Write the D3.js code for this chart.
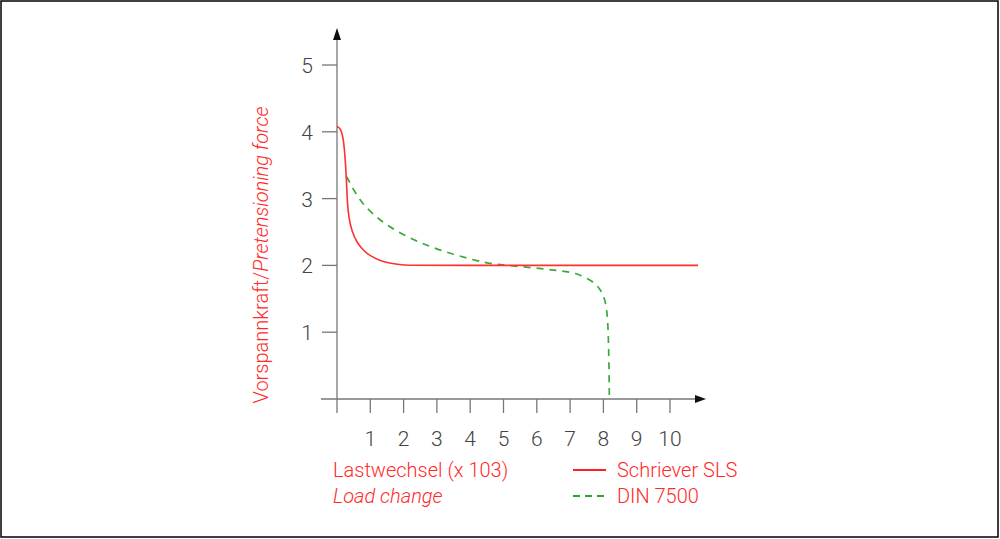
<!DOCTYPE html>
<html>
<head>
<meta charset="utf-8">
<script src="https://cdn.jsdelivr.net/npm/d3@7"></script>
<style>
  body { margin: 0; background: #fff; }
  svg { display: block; font-family: Roboto, 'Liberation Sans', Arial, sans-serif; font-weight: 300; }
</style>
</head>
<body>
<svg id="canvas" width="1000" height="539"></svg>
<script>
let xTicks = [1, 2, 3, 4, 5, 6, 7, 8, 9, 10]
let yTicks = [1, 2, 3, 4, 5]

// Schriever SLS (red)
let slsX = [0, 0.1, 0.2, 0.26, 0.29, 0.31, 0.35, 0.45, 0.6, 0.8, 1.0, 1.3, 1.6, 2.0, 2.5, 10.84]
let slsY = [4.08, 4.06, 3.9, 3.5, 3.2, 2.95, 2.72, 2.5, 2.34, 2.22, 2.14, 2.07, 2.03, 2.0, 2.0, 2.0]

// DIN 7500 (green dashed)
let dinX = [0.29, 0.7, 1.5, 2.5, 3.5, 4.5, 5.1, 6.0, 6.5, 7.0, 7.3, 7.69, 7.9, 8.05, 8.15, 8.18]
let dinY = [3.33, 2.93, 2.58, 2.33, 2.16, 2.03, 2.0, 1.96, 1.93, 1.9, 1.86, 1.76, 1.65, 1.5, 1.2, 0]

let canvas = d3.select('#canvas')

canvas.append('rect')
  .attr('x', 1).attr('y', 1)
  .attr('width', 997).attr('height', 536)
  .attr('fill', 'none').attr('stroke', '#000').attr('stroke-width', 1.5)

let xScale = d3.scaleLinear().domain([0, 10]).range([337, 670])
let yScale = d3.scaleLinear().domain([0, 5]).range([399, 65])

let axisColor = '#777'

// axis lines
canvas.append('line')
  .attr('x1', 321).attr('x2', 697)
  .attr('y1', yScale(0)).attr('y2', yScale(0))
  .attr('stroke', axisColor).attr('stroke-width', 1.3)
canvas.append('line')
  .attr('x1', xScale(0)).attr('x2', xScale(0))
  .attr('y1', 413).attr('y2', 36)
  .attr('stroke', axisColor).attr('stroke-width', 1.3)

// arrow heads
canvas.append('path')
  .attr('d', 'M' + 695 + ',' + (yScale(0) - 4) + 'L' + 706 + ',' + yScale(0) + 'L' + 695 + ',' + (yScale(0) + 4) + 'Z')
  .attr('fill', '#111')
canvas.append('path')
  .attr('d', 'M' + (xScale(0) - 4) + ',' + 40 + 'L' + xScale(0) + ',' + 28 + 'L' + (xScale(0) + 4) + ',' + 40 + 'Z')
  .attr('fill', '#111')

// x ticks
canvas.selectAll('.xtick')
  .data(xTicks)
  .enter()
  .append('line')
  .attr('class', 'xtick')
  .attr('x1', (d) => xScale(d)).attr('x2', (d) => xScale(d))
  .attr('y1', yScale(0)).attr('y2', 413)
  .attr('stroke', axisColor).attr('stroke-width', 1.3)

canvas.selectAll('.xlabel')
  .data(xTicks)
  .enter()
  .append('text')
  .attr('class', 'xlabel')
  .attr('x', (d) => xScale(d))
  .attr('y', 446)
  .attr('text-anchor', 'middle')
  .attr('font-size', 21)
  .attr('fill', '#444')
  .text((d) => d)

// y ticks
canvas.selectAll('.ytick')
  .data(yTicks)
  .enter()
  .append('line')
  .attr('class', 'ytick')
  .attr('x1', 322).attr('x2', xScale(0))
  .attr('y1', (d) => yScale(d)).attr('y2', (d) => yScale(d))
  .attr('stroke', axisColor).attr('stroke-width', 1.3)

canvas.selectAll('.ylabel')
  .data(yTicks)
  .enter()
  .append('text')
  .attr('class', 'ylabel')
  .attr('x', 313)
  .attr('y', (d) => yScale(d) + 8)
  .attr('text-anchor', 'end')
  .attr('font-size', 21)
  .attr('fill', '#444')
  .text((d) => d)

// curves
let lineX = d3.line()
  .x((d) => xScale(d[0]))
  .y((d) => yScale(d[1]))
  .curve(d3.curveBasis)

canvas.append('path')
  .datum(d3.zip(dinX, dinY))
  .attr('d', lineX)
  .attr('fill', 'none')
  .attr('stroke', '#3aaa3a')
  .attr('stroke-width', 1.7)
  .attr('stroke-dasharray', '7,6')

canvas.append('path')
  .datum(d3.zip(slsX, slsY))
  .attr('d', lineX)
  .attr('fill', 'none')
  .attr('stroke', '#ff3030')
  .attr('stroke-width', 1.6)

// y axis title
let yTitle = canvas.append('text')
  .attr('transform', 'translate(268,255) rotate(-90)')
  .attr('text-anchor', 'middle')
  .attr('font-size', 20)
  .attr('fill', '#ff2a2a')
yTitle.append('tspan').text('Vorspannkraft/')
yTitle.append('tspan').attr('font-style', 'italic').text('Pretensioning force')

// x axis title
canvas.append('text')
  .attr('x', 333).attr('y', 477)
  .attr('font-size', 20)
  .attr('fill', '#ff2a2a')
  .text('Lastwechsel (x 103)')
canvas.append('text')
  .attr('x', 333).attr('y', 503)
  .attr('font-size', 20)
  .attr('font-style', 'italic')
  .attr('fill', '#ff2a2a')
  .text('Load change')

// legend
let legendNames = ['Schriever SLS', 'DIN 7500']
let legendColors = ['#ff2020', '#2aa82a']
let legendDash = ['none', '7,5']

let legend = canvas.selectAll('.legend')
  .data(legendNames)
  .enter()
  .append('g')
  .attr('class', 'legend')
  .attr('transform', (d, i) => 'translate(573,' + (470 + i * 26) + ')')

legend.append('line')
  .attr('x1', 0).attr('x2', 33)
  .attr('y1', 0).attr('y2', 0)
  .attr('stroke', (d, i) => legendColors[i])
  .attr('stroke-width', 2)
  .attr('stroke-dasharray', (d, i) => legendDash[i])

legend.append('text')
  .attr('x', 44).attr('y', 7)
  .attr('font-size', 20)
  .attr('fill', '#ff2a2a')
  .text((d) => d)
</script>
</body>
</html>
